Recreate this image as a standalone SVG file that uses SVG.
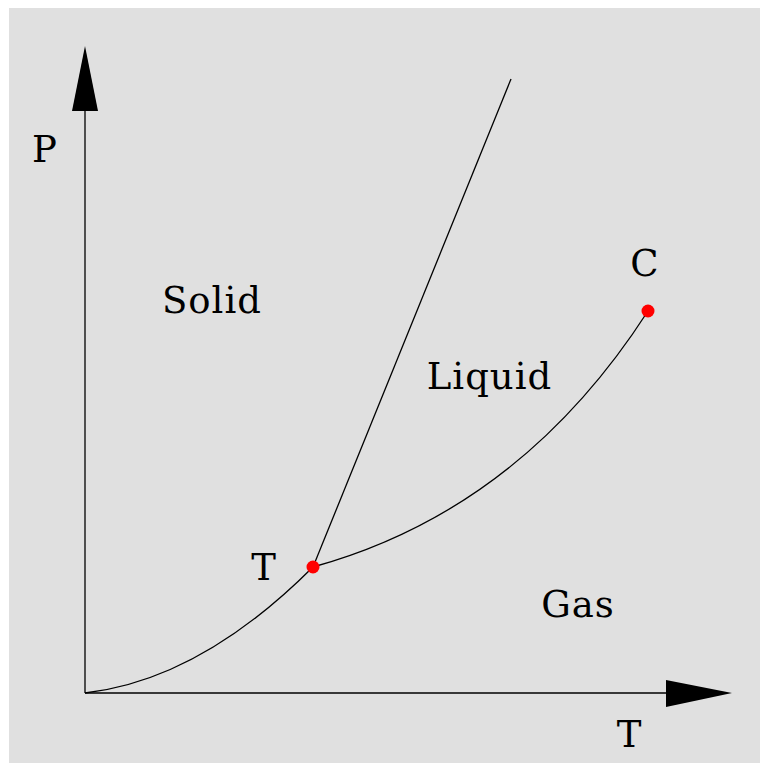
<svg xmlns="http://www.w3.org/2000/svg" width="760" height="763" viewBox="0 0 760 763">
<style>
.ln{fill:none;stroke:#000;stroke-width:1.3}
.ah{fill:#000;stroke:none}
.pt{fill:#ff0000;stroke:none}
.lbl{font-family:"DejaVu Serif",serif;font-size:37px;fill:#000;text-anchor:middle;letter-spacing:1px}
</style>
<rect x="9" y="8" width="751" height="755" fill="#e0e0e0"/>
<g id="connectors">
<line class="ln" x1="85" y1="693" x2="85" y2="100"/>
<polygon class="ah" points="85,46 72,111 98,111"/>
<line class="ln" x1="85" y1="693" x2="680" y2="693"/>
<polygon class="ah" points="732,693 666,680 666,707"/>
<path class="ln" d="M85,693 Q200,680 313,567"/>
<path class="ln" d="M313,567 Q520,510 648,311"/>
<line class="ln" x1="313" y1="567" x2="511" y2="79"/>
</g>
<g id="triple-point"><circle class="pt" cx="313" cy="567" r="6.5"/><text class="lbl" x="264" y="580">T</text></g>
<g id="critical-point"><circle class="pt" cx="648" cy="311" r="6.5"/><text class="lbl" x="645" y="276">C</text></g>
<g id="axis-p"><text class="lbl" x="45" y="162">P</text></g>
<g id="axis-t"><text class="lbl" x="629.5" y="747">T</text></g>
<g id="solid"><text class="lbl" x="212" y="313">Solid</text></g>
<g id="liquid"><text class="lbl" x="489.5" y="389">Liquid</text></g>
<g id="gas"><text class="lbl" x="578" y="617">Gas</text></g>
</svg>
